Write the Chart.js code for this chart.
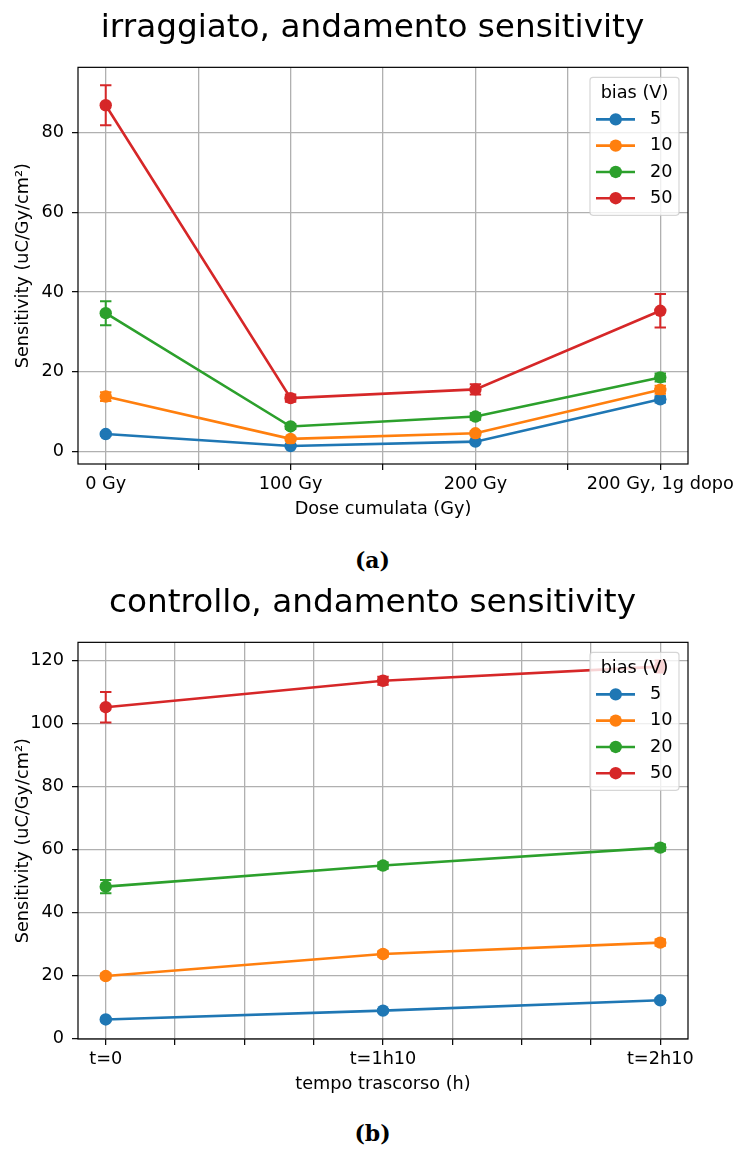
<!DOCTYPE html>
<html>
<head>
<meta charset="utf-8">
<script src="https://cdn.jsdelivr.net/npm/chart.js@4"></script>
<style>
  body { margin: 0; background: #fff; }
  #page { position: relative; width: 739px; height: 1149px; background: #fff; }
  canvas { position: absolute; left: 0; }
  .caption {
    position: absolute; left: 6px; width: 733px; height: 30px; line-height: 30px;
    text-align: center; font: bold 22px "DejaVu Serif", serif; color: #000;
  }
</style>
</head>
<body>
<div id="page">
  <canvas id="chartA" width="739" height="530" style="top:0"></canvas>
  <div class="caption" style="top:547px">(a)</div>
  <canvas id="chartB" width="739" height="530" style="top:575px"></canvas>
  <div class="caption" style="top:1120px">(b)</div>
</div>
<script>
// categories / legend
const doseLabels = ['0 Gy', '100 Gy', '200 Gy', '200 Gy, 1g dopo'];
const timeLabels = ['t=0', 't=1h10', 't=2h10'];
const biasLabels = ['5', '10', '20', '50'];
const legendTitle = 'bias (V)';
const seriesColors = ['#1f77b4', '#ff7f0e', '#2ca02c', '#d62728'];

// (a) irraggiato - sensitivity per bias, with errors
const irr5 = [4.4, 1.4, 2.5, 13.1];
const irr10 = [13.8, 3.2, 4.6, 15.5];
const irr20 = [34.7, 6.3, 8.8, 18.6];
const irr50 = [86.8, 13.4, 15.6, 35.3];
const irrErr5 = [0.4, 0.2, 0.3, 0.8];
const irrErr10 = [1.1, 0.4, 0.5, 1.0];
const irrErr20 = [3.0, 0.6, 0.8, 1.0];
const irrErr50 = [5.0, 0.9, 1.3, 4.2];

// (b) controllo
const ctrl5 = [6.0, 8.8, 12.1];
const ctrl10 = [19.8, 26.8, 30.4];
const ctrl20 = [48.2, 54.9, 60.6];
const ctrl50 = [105.2, 113.6, 118.1];
const ctrlErr5 = [0.5, 0.5, 0.6];
const ctrlErr10 = [0.8, 0.9, 1.0];
const ctrlErr20 = [2.1, 1.0, 1.0];
const ctrlErr50 = [4.85, 1.3, 1.9];

// tick values
const doseTicks = [0, 0.5, 1, 1.5, 2, 2.5, 3];
const timeTicks = [0, 0.25, 0.5, 0.75, 1, 1.25, 1.5, 1.75, 2];
const irrYTicks = [0, 20, 40, 60, 80];
const ctrlYTicks = [0, 20, 40, 60, 80, 100, 120];

const FONT = '"DejaVu Sans", sans-serif';
const FS = 17.7;

Chart.defaults.font.family = FONT;
Chart.defaults.color = '#000';

// error bars drawn on top of each series
const errorBarPlugin = {
  id: 'errorBars',
  afterDatasetsDraw(chart, args, opts) {
    const ctx = chart.ctx;
    const y = chart.scales.y;
    ctx.save();
    chart.data.datasets.forEach((ds, i) => {
      const meta = chart.getDatasetMeta(i);
      const errs = opts.errors[i];
      ctx.strokeStyle = ds.borderColor;
      ctx.lineWidth = 2;
      meta.data.forEach((pt, j) => {
        const v = ds.data[j].y;
        const top = y.getPixelForValue(v + errs[j]);
        const bot = y.getPixelForValue(v - errs[j]);
        ctx.beginPath();
        ctx.moveTo(pt.x, top); ctx.lineTo(pt.x, bot);
        ctx.moveTo(pt.x - 5.7, top); ctx.lineTo(pt.x + 5.7, top);
        ctx.moveTo(pt.x - 5.7, bot); ctx.lineTo(pt.x + 5.7, bot);
        ctx.stroke();
      });
    });
    ctx.restore();
  }
};

// full box around the plot area
const framePlugin = {
  id: 'frame',
  afterDatasetsDraw(chart) {
    const { ctx, chartArea: a } = chart;
    ctx.save();
    ctx.strokeStyle = '#000';
    ctx.lineWidth = 1.2;
    ctx.strokeRect(a.left, a.top, a.right - a.left, a.bottom - a.top);
    ctx.restore();
  }
};

// matplotlib-like legend box in the upper right corner
const biasLegendPlugin = {
  id: 'biasLegend',
  afterDraw(chart) {
    const { ctx, chartArea: a } = chart;
    const w = 89, h = 138;
    const x0 = a.right - 9 - w, y0 = a.top + 10;
    ctx.save();
    ctx.beginPath();
    if (ctx.roundRect) ctx.roundRect(x0, y0, w, h, 3); else ctx.rect(x0, y0, w, h);
    ctx.fillStyle = 'rgba(255,255,255,0.8)';
    ctx.fill();
    ctx.strokeStyle = 'rgba(204,204,204,0.8)';
    ctx.lineWidth = 1.2;
    ctx.stroke();

    ctx.font = FS + 'px ' + FONT;
    ctx.fillStyle = '#000';
    ctx.textAlign = 'center';
    ctx.textBaseline = 'alphabetic';
    ctx.fillText(legendTitle, x0 + w / 2, y0 + 20.5);

    chart.data.datasets.forEach((ds, i) => {
      const cy = y0 + 42 + i * 26.3;
      ctx.strokeStyle = ds.borderColor;
      ctx.lineWidth = 2.6;
      ctx.beginPath();
      ctx.moveTo(x0 + 6, cy); ctx.lineTo(x0 + 45, cy);
      ctx.stroke();
      ctx.fillStyle = ds.borderColor;
      ctx.beginPath();
      ctx.arc(x0 + 25.7, cy, 6.2, 0, Math.PI * 2);
      ctx.fill();
      ctx.fillStyle = '#000';
      ctx.textAlign = 'left';
      ctx.textBaseline = 'middle';
      ctx.fillText(ds.label, x0 + 60, cy);
    });
    ctx.restore();
  }
};

function makeChart(id, cfg) {
  const datasets = biasLabels.map((b, i) => ({
    label: b,
    data: cfg.series[i].map((v, j) => ({ x: j, y: v })),
    xAxisID: 'x',
    yAxisID: 'y',
    borderColor: seriesColors[i],
    backgroundColor: seriesColors[i],
    pointBackgroundColor: seriesColors[i],
    borderWidth: 2.6,
    pointRadius: 6.2,
    pointBorderWidth: 0,
    tension: 0,
    order: biasLabels.length - 1 - i
  }));

  return new Chart(document.getElementById(id), {
    type: 'line',
    data: { datasets },
    options: {
      responsive: false,
      animation: false,
      devicePixelRatio: 1,
      events: [],
      layout: { padding: { left: 6, right: 0, top: 0, bottom: 0 } },
      plugins: {
        legend: { display: false },
        tooltip: { enabled: false },
        title: {
          display: true,
          text: cfg.title,
          color: '#000',
          font: { family: FONT, size: 32.7, weight: 'normal' },
          padding: { top: 8.4, bottom: 19.7 }
        },
        errorBars: { errors: cfg.errors }
      },
      scales: {
        x: {
          type: 'linear',
          min: cfg.xMin,
          max: cfg.xMax,
          afterBuildTicks: s => { s.ticks = cfg.xTicks.map(v => ({ value: v })); },
          afterFit: s => { s.height = 66; s.paddingLeft = 0; s.paddingRight = 0; },
          ticks: {
            autoSkip: false,
            maxRotation: 0,
            padding: 4,
            color: '#000',
            font: { size: FS },
            callback: v => Number.isInteger(v) ? cfg.categories[v] : ''
          },
          grid: { color: '#b0b0b0', lineWidth: 1.3, tickLength: 6, tickColor: '#000', tickWidth: 1.2 },
          border: { display: false },
          title: {
            display: true, text: cfg.xTitle, color: '#000',
            font: { size: FS }, padding: { top: 0, bottom: 10.4 }
          }
        },
        y: {
          type: 'linear',
          position: 'left',
          min: cfg.yMin,
          max: cfg.yMax,
          afterBuildTicks: s => { s.ticks = cfg.yTicks.map(v => ({ value: v })); },
          afterFit: s => { s.width = 72; s.paddingTop = 0; s.paddingBottom = 0; },
          ticks: { padding: 8, color: '#000', font: { size: FS } },
          grid: { color: '#b0b0b0', lineWidth: 1.3, tickLength: 6, tickColor: '#000', tickWidth: 1.2 },
          border: { display: false },
          title: {
            display: true, text: 'Sensitivity (uC/Gy/cm²)', color: '#000',
            font: { size: FS }, padding: { top: 6.9, bottom: 0 }
          }
        },
        yRight: {
          type: 'linear',
          position: 'right',
          display: true,
          grid: { display: false },
          ticks: { display: false },
          border: { display: false },
          afterFit: s => { s.width = 51; }
        }
      }
    },
    plugins: [errorBarPlugin, framePlugin, biasLegendPlugin]
  });
}

makeChart('chartA', {
  title: 'irraggiato, andamento sensitivity',
  categories: doseLabels,
  xTitle: 'Dose cumulata (Gy)',
  series: [irr5, irr10, irr20, irr50],
  errors: [irrErr5, irrErr10, irrErr20, irrErr50],
  xMin: -0.15, xMax: 3.15, xTicks: doseTicks,
  yMin: -3.1, yMax: 96.3, yTicks: irrYTicks
});

makeChart('chartB', {
  title: 'controllo, andamento sensitivity',
  categories: timeLabels,
  xTitle: 'tempo trascorso (h)',
  series: [ctrl5, ctrl10, ctrl20, ctrl50],
  errors: [ctrlErr5, ctrlErr10, ctrlErr20, ctrlErr50],
  xMin: -0.1, xMax: 2.1, xTicks: timeTicks,
  yMin: -0.2, yMax: 125.8, yTicks: ctrlYTicks
});
</script>
</body>
</html>
